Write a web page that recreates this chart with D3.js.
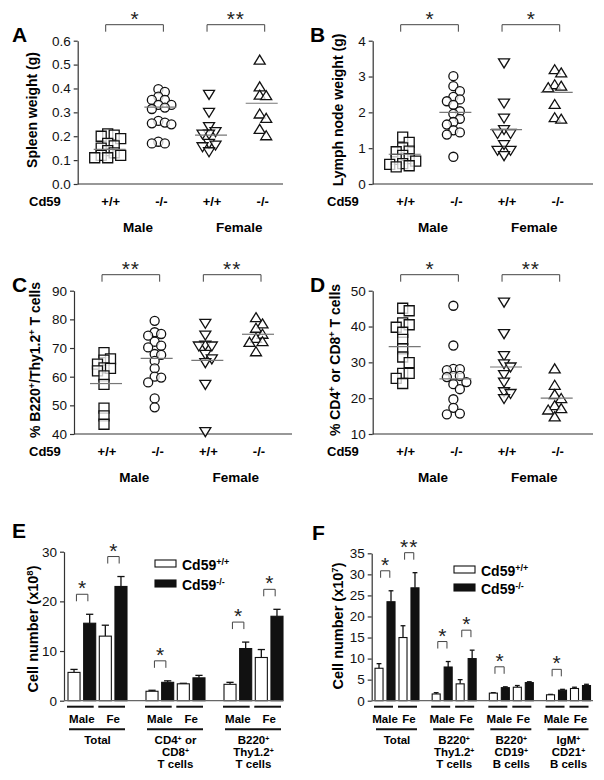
<!DOCTYPE html>
<html><head><meta charset="utf-8">
<script src="https://cdn.jsdelivr.net/npm/d3@7"></script>
<style>body{margin:0;background:#fff}svg{display:block;font-family:"Liberation Sans",Arial,sans-serif}</style>
</head><body>
<script>
// ---------- DATA ----------
const genotypes = ["+/+", "-/-", "+/+", "-/-"];
const sexes = ["Male", "Female"];

// Panel A: spleen weight (g)
const spleenMaleWT = [0.21,0.205,0.20,0.19,0.17,0.16,0.15,0.14,0.13,0.12,0.12,0.11,0.11];
const spleenMaleKO = [0.397,0.386,0.366,0.352,0.352,0.331,0.331,0.314,0.32,0.254,0.264,0.25,0.257,0.177,0.17,0.17];
const spleenFemWT = [0.375,0.30,0.24,0.209,0.209,0.219,0.17,0.163,0.156,0.135];
const spleenFemKO = [0.519,0.407,0.37,0.372,0.293,0.275,0.229,0.202];
const spleenCenter = [0.145,0.322,0.205,0.338];
const spleenTicks = [0,0.1,0.2,0.3,0.4,0.5,0.6];
const spleenSig = ["*","**"];

// Panel B: lymph node weight (g)
const lnMaleWT = [1.31,1.16,1.01,0.92,0.90,0.80,0.71,0.64,0.69,0.48,0.51,0.57,0.55];
const lnMaleKO = [3.01,2.73,2.59,2.43,2.36,2.31,2.21,1.96,2.03,1.82,1.73,1.66,1.44,1.50,1.38,0.76];
const lnFemWT = [3.38,2.26,1.84,1.52,1.41,1.41,1.10,0.94,0.94,0.79];
const lnFemKO = [3.19,3.10,2.77,2.69,2.73,2.22,1.81,1.85];
const lnCenter = [0.83,2.0,1.52,2.56];
const lnTicks = [0,1,2,3,4];
const lnSig = ["*","*"];

// Panel C: % B220+/Thy1.2+ T cells
const b220MaleWT = [68.4,66.2,65.8,64.4,62.9,63.1,62.0,60.3,57.3,49.0,46.3,43.4];
const b220MaleKO = [79.5,75.5,74.9,74.3,72.2,70.2,70.8,67.9,67.6,65.5,62.9,59.7,60.0,58.0,52.4,49.3];
const b220FemWT = [78.6,74.5,70.7,70.7,71.0,67.8,66.2,64.9,57.3,40.8];
const b220FemKO = [80.6,78.4,76.9,74.8,73.4,72.2,72.0,68.7];
const b220Center = [57.6,66.4,65.7,74.8];
const b220Ticks = [40,50,60,70,80,90];
const b220Sig = ["**","**"];

// Panel D: % CD4+ or CD8+ T cells
const cd4MaleWT = [45.1,44.4,41.0,39.8,40.5,38.4,36.4,33.8,31.5,29.9,26.9,26.9,25.5,24.1];
const cd4MaleKO = [45.8,34.7,28.1,27.8,28.2,26.2,25.9,26.2,24.5,23.9,22.5,19.7,17.3,15.5,15.7];
const cd4FemWT = [46.8,38.0,31.9,29.6,28.7,26.6,24.5,21.8,21.3,19.9];
const cd4FemKO = [28.2,23.6,21.0,19.9,17.1,17.9,16.7,14.8];
const cd4Center = [34.4,25.4,28.7,20.0];
const cd4Ticks = [10,20,30,40,50];
const cd4Sig = ["*","**"];

// Panel E: cell number (x10^8)
const eGroups = [["Total"],["CD4{+} or","CD8{+}","T cells"],["B220{+}","Thy1.2{+}","T cells"]];
const eMaleWT = [5.7,1.9,3.3],   eMaleWTErr = [0.6,0.2,0.4];
const eMaleKO = [15.6,3.7,10.5], eMaleKOErr = [1.8,0.3,1.3];
const eFemWT  = [13.0,3.4,8.7],  eFemWTErr  = [2.2,0.1,1.6];
const eFemKO  = [23.0,4.6,17.0], eFemKOErr  = [2.0,0.5,1.4];
const eSigMale = ["*","*","*"], eSigFem = ["*","","*"];
const eTicks = [0,10,20,30];

// Panel F: cell number (x10^7)
const fGroups = [["Total"],["B220{+}","Thy1.2{+}","T cells"],["B220{+}","CD19{+}","B cells"],["IgM{+}","CD21{+}","B cells"]];
const fMaleWT = [7.7,1.6,1.8,1.4],  fMaleWTErr = [1.1,0.3,0.1,0.1];
const fMaleKO = [23.5,8.0,3.1,2.5], fMaleKOErr = [2.6,1.3,0.2,0.2];
const fFemWT  = [15.0,4.0,3.2,2.9], fFemWTErr  = [2.8,1.0,0.4,0.3];
const fFemKO  = [26.8,10.0,4.3,3.6],fFemKOErr  = [3.6,2.0,0.2,0.3];
const fSigMale = ["*","*","*","*"], fSigFem = ["**","*","",""];
const fTicks = [0,5,10,15,20,25,30,35];

const pairLabels = ["Male","Fe"];
const legendLabels = ["Cd59{+/+}","Cd59{-/-}"];
const legendFills = ["#fff","#111"];

// ---------- HELPERS ----------
const svg = d3.select("body").append("svg").attr("width",604).attr("height",780);
svg.append("rect").attr("width",604).attr("height",780).attr("fill","#fff");
const AX = "#333";

function rich(t, str, supSize, shift){
  const parts = str.split(/(\{[^}]*\})/);
  let down = 0;
  parts.forEach(p=>{
    if(!p) return;
    if(p[0]==="{"){
      t.append("tspan").attr("dy",-shift).attr("font-size",supSize).text(p.slice(1,-1));
      down = shift;
    } else {
      const s = t.append("tspan").text(p);
      if(down){ s.attr("dy",down); down=0; }
    }
  });
  return t;
}

function star(g, x, y, s){
  g.append("text").attr("x",x).attr("y",y+1).attr("text-anchor","middle")
   .attr("font-size",21).attr("letter-spacing", s.length>1?1:0).attr("fill","#222").text(s);
}
function bracket(g, xa, xb, top, leg){
  g.append("path").attr("d",`M${xa},${top+leg}V${top}H${xb}V${top+leg}`)
   .attr("fill","none").attr("stroke","#444").attr("stroke-width",1);
}

const shapes = {
  square: "M-5,-5H5V5H-5Z",
  circle: d3.symbol(d3.symbolCircle, 64)(),
  down: "M-5.5,-4H5.5L0,5Z",
  up: "M0,-5L5.5,4H-5.5Z"
};
const shapeOrder = ["square","circle","down","up"];

function dodge(vals, y, step, minD){
  const pts = vals.map(v=>({v, py:y(v)})).sort((a,b)=>a.py-b.py);
  const placed = [];
  const offs = [0]; for(let k=1;k<8;k++){ offs.push(k*step, -k*step); }
  pts.forEach(p=>{
    for(const o of offs){
      if(placed.every(q=>Math.hypot(q.dx-o, q.py-p.py)>=minD)){ p.dx=o; break; }
    }
    if(p.dx===undefined) p.dx=0;
    placed.push(p);
  });
  return pts;
}

// ---------- SCATTER PANELS ----------
function scatterPanel(c){
  const g = svg.append("g");
  const y = d3.scaleLinear().domain(c.domain).range([c.yBot, c.yTop]);
  const x = d3.scalePoint().domain([0,1,2,3]).range([c.x0+30, c.x0+182]);
  const ax = g.append("g").attr("transform",`translate(${c.x0},0)`)
    .call(d3.axisLeft(y).tickValues(c.ticks).tickFormat(c.fmt).tickSize(4).tickSizeOuter(0).tickPadding(3));
  ax.select(".domain").attr("stroke",AX).attr("stroke-width",1.2);
  ax.selectAll(".tick line").attr("stroke",AX).attr("stroke-width",1.2);
  ax.selectAll(".tick text").attr("font-size",13.5).attr("fill","#111").attr("font-family","Liberation Sans, Arial, sans-serif");
  g.append("line").attr("x1",c.x0).attr("x2",c.x1).attr("y1",c.yBot).attr("y2",c.yBot).attr("stroke",AX).attr("stroke-width",1.2);

  c.data.forEach((vals,i)=>{
    const pts = dodge(vals, y, 6.5, 6.5);
    g.append("g").selectAll("path").data(pts).join("path")
      .attr("d", shapes[shapeOrder[i]])
      .attr("transform", d=>`translate(${x(i)+d.dx},${d.py})`)
      .attr("fill","#fff").attr("fill-opacity",0.75).attr("stroke","#111").attr("stroke-width",1.3);
    g.append("line").attr("x1",x(i)-14).attr("x2",x(i)+18)
      .attr("y1",y(c.centers[i])).attr("y2",y(c.centers[i]))
      .attr("stroke","#777").attr("stroke-width",1.2);
  });

  c.sig.forEach((s,k)=>{
    const xa = x(2*k)-2, xb = x(2*k+1)+5, top = c.yTop-16;
    bracket(g, xa, xb, top, 7);
    star(g, (xa+xb)/2, top, s);
  });

  g.append("text").attr("x",c.col+29).attr("y",c.yBot+22).attr("font-weight","bold").attr("font-size",13).text("Cd59");
  genotypes.forEach((t,i)=>{
    g.append("text").attr("x",x(i)+3).attr("y",c.yBot+22).attr("text-anchor","middle")
     .attr("font-weight","bold").attr("font-size",13).text(t);
  });
  sexes.forEach((t,k)=>{
    g.append("text").attr("x",(x(2*k)+x(2*k+1))/2+5).attr("y",c.yBot+48).attr("text-anchor","middle")
     .attr("font-weight","bold").attr("font-size",13.5).text(t);
  });
  g.append("text").attr("x",c.col+12).attr("y",c.yTop+1.5).attr("font-weight","bold").attr("font-size",21).text(c.letter);
  const yl = g.append("text").attr("transform",`translate(${c.labX},${c.labY}) rotate(-90)`)
    .attr("text-anchor","middle").attr("font-weight","bold").attr("font-size",14);
  rich(yl, c.label, 9, 5);
}

scatterPanel({letter:"A", col:0, x0:77.7, x1:283, yTop:40.7, yBot:184, domain:[0,0.6], ticks:spleenTicks, fmt:d=>d.toFixed(1),
  data:[spleenMaleWT,spleenMaleKO,spleenFemWT,spleenFemKO], centers:spleenCenter, sig:spleenSig,
  label:"Spleen weight (g)", labX:37, labY:110});
scatterPanel({letter:"B", col:298, x0:372.7, x1:593, yTop:40.7, yBot:184, domain:[0,4], ticks:lnTicks, fmt:d3.format("d"),
  data:[lnMaleWT,lnMaleKO,lnFemWT,lnFemKO], centers:lnCenter, sig:lnSig,
  label:"Lymph node weight (g)", labX:343, labY:110});
scatterPanel({letter:"C", col:0, x0:74, x1:292, yTop:290.7, yBot:434, domain:[40,90], ticks:b220Ticks, fmt:d3.format("d"),
  data:[b220MaleWT,b220MaleKO,b220FemWT,b220FemKO], centers:b220Center, sig:b220Sig,
  label:"% B220{+}/Thy1.2{+} T cells", labX:40, labY:360});
scatterPanel({letter:"D", col:298, x0:372.7, x1:593, yTop:290.7, yBot:434, domain:[10,50], ticks:cd4Ticks, fmt:d3.format("d"),
  data:[cd4MaleWT,cd4MaleKO,cd4FemWT,cd4FemKO], centers:cd4Center, sig:cd4Sig,
  label:"% CD4{+} or CD8{+} T cells", labX:340, labY:360});

// ---------- BAR PANELS ----------
function barPanel(c){
  const g = svg.append("g");
  const y = d3.scaleLinear().domain(c.domain).range([c.yBot, c.yTop]);
  const gx = d3.scalePoint().domain(d3.range(c.groups.length)).range(c.groupRange);
  const ix = d3.scaleBand().domain([0,1,2,3]).range([-c.halfW, c.halfW]).paddingInner(c.pad).paddingOuter(0);
  const bw = ix.bandwidth();
  const series = c.series;

  const ax = g.append("g").attr("transform",`translate(${c.x0},0)`)
    .call(d3.axisLeft(y).tickValues(c.ticks).tickFormat(d3.format("d")).tickSize(4).tickSizeOuter(0).tickPadding(3));
  ax.select(".domain").attr("stroke",AX).attr("stroke-width",1.2);
  ax.selectAll(".tick line").attr("stroke",AX).attr("stroke-width",1.2);
  ax.selectAll(".tick text").attr("font-size",13.5).attr("fill","#111").attr("font-family","Liberation Sans, Arial, sans-serif");

  c.groups.forEach((lab,gi)=>{
    series.forEach((s,si)=>{
      const bx = gx(gi)+ix(si);
      const top = y(s.vals[gi]+s.errs[gi]);
      g.append("line").attr("x1",bx+bw/2).attr("x2",bx+bw/2).attr("y1",y(s.vals[gi])).attr("y2",top)
        .attr("stroke","#111").attr("stroke-width",1.3);
      g.append("line").attr("x1",bx+bw/2-bw*0.3).attr("x2",bx+bw/2+bw*0.3).attr("y1",top).attr("y2",top)
        .attr("stroke","#111").attr("stroke-width",1.3);
      g.append("rect").attr("x",bx).attr("y",y(s.vals[gi])).attr("width",bw).attr("height",c.yBot-y(s.vals[gi]))
        .attr("fill",s.fill).attr("stroke","#111").attr("stroke-width",1.1);
    });
    [[0,1,c.sigMale],[2,3,c.sigFem]].forEach(([a,b,sig])=>{
      const s = sig[gi]; if(!s) return;
      const xa = gx(gi)+ix(a)+bw/2+bw*0.2, xb = gx(gi)+ix(b)+bw/2-bw*0.15;
      const maxTop = Math.min(y(series[a].vals[gi]+series[a].errs[gi]), y(series[b].vals[gi]+series[b].errs[gi]));
      const bottom = maxTop-13, top = bottom-7;
      bracket(g, xa, xb, top, 7);
      star(g, (xa+xb)/2, top, s);
    });
    [[0,1],[2,3]].forEach(([a,b],k)=>{
      const xa = gx(gi)+ix(a), xb = gx(gi)+ix(b)+bw;
      g.append("line").attr("x1",xa-1).attr("x2",xb-2).attr("y1",c.yBot+6).attr("y2",c.yBot+6).attr("stroke","#111").attr("stroke-width",2);
      g.append("text").attr("x",(xa+xb)/2).attr("y",c.yBot+22).attr("text-anchor","middle")
        .attr("font-weight","bold").attr("font-size",11.5).text(pairLabels[k]);
    });
    const ga = gx(gi)+ix(0), gb = gx(gi)+ix(3)+bw;
    g.append("line").attr("x1",ga+1).attr("x2",gb-2).attr("y1",c.yBot+28.6).attr("y2",c.yBot+28.6).attr("stroke","#111").attr("stroke-width",2);
    lab.forEach((line,li)=>{
      const t = g.append("text").attr("x",(ga+gb)/2).attr("y",c.yBot+43.3+li*12).attr("text-anchor","middle")
        .attr("font-weight","bold").attr("font-size",11.5);
      rich(t, line, 7, 3.5);
    });
  });
  g.append("line").attr("x1",c.x0).attr("x2",c.x1).attr("y1",c.yBot).attr("y2",c.yBot).attr("stroke","#666").attr("stroke-width",1.2);

  legendLabels.forEach((l,i)=>{
    const ly = c.legY + i*c.legStep;
    g.append("rect").attr("x",c.legX).attr("y",ly).attr("width",21).attr("height",7)
      .attr("fill",legendFills[i]).attr("stroke","#111").attr("stroke-width",1.1);
    const t = g.append("text").attr("x",c.legX+27).attr("y",ly+9.5).attr("font-weight","bold").attr("font-size",14);
    rich(t, l, 9, 5);
  });

  g.append("text").attr("x",c.letterX).attr("y",c.letterY).attr("font-weight","bold").attr("font-size",21).text(c.letter);
  const yl = g.append("text").attr("transform",`translate(${c.labX},${c.labY}) rotate(-90)`)
    .attr("text-anchor","middle").attr("font-weight","bold").attr("font-size",14.5);
  rich(yl, c.label, 9.5, 5.5);
}

barPanel({letter:"E", letterX:12, letterY:538, x0:64, x1:283, yTop:551.7, yBot:700.7, domain:[0,30], ticks:eTicks,
  groups:eGroups, groupRange:[97.5,253.5], halfW:29.5, pad:0.23,
  series:[{vals:eMaleWT,errs:eMaleWTErr,fill:"#fff"},{vals:eMaleKO,errs:eMaleKOErr,fill:"#111"},
          {vals:eFemWT,errs:eFemWTErr,fill:"#fff"},{vals:eFemKO,errs:eFemKOErr,fill:"#111"}],
  sigMale:eSigMale, sigFem:eSigFem, legX:155, legY:560, legStep:20,
  label:"Cell number (x10{8})", labX:38, labY:629});
barPanel({letter:"F", letterX:312, letterY:540, x0:371.7, x1:593, yTop:553.3, yBot:700.7, domain:[0,35], ticks:fTicks,
  groups:fGroups, groupRange:[397,568.5], halfW:22, pad:0.33,
  series:[{vals:fMaleWT,errs:fMaleWTErr,fill:"#fff"},{vals:fMaleKO,errs:fMaleKOErr,fill:"#111"},
          {vals:fFemWT,errs:fFemWTErr,fill:"#fff"},{vals:fFemKO,errs:fFemKOErr,fill:"#111"}],
  sigMale:fSigMale, sigFem:fSigFem, legX:454, legY:566, legStep:18,
  label:"Cell number (x10{7})", labX:343, labY:626});
</script>
</body></html>
